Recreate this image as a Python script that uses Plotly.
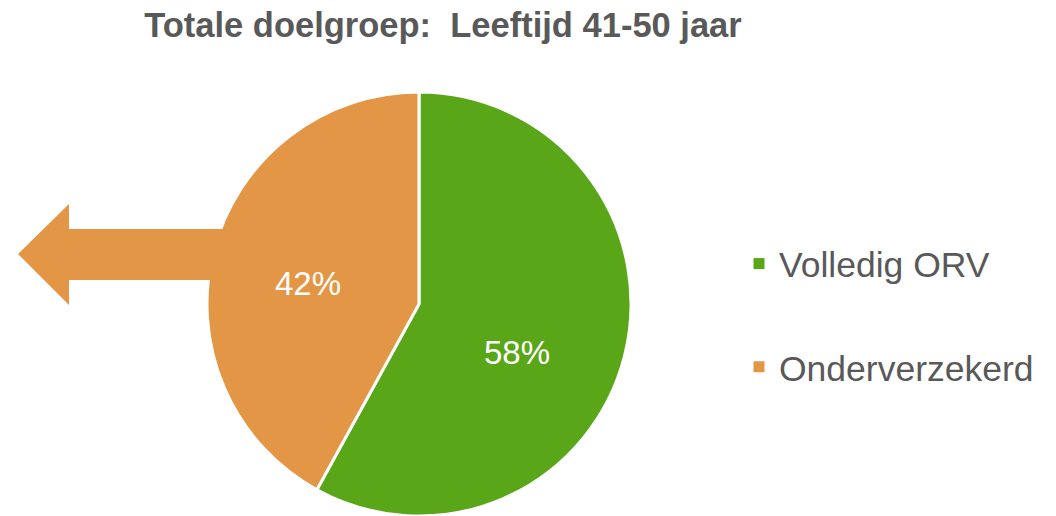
import plotly.graph_objects as go

categories = ["Volledig ORV", "Onderverzekerd"]
values = [58, 42]
colors = ["#59A618", "#E39646"]
title_text = "Totale doelgroep:  Leeftijd 41-50 jaar"

W, H = 1056, 516
FONT = "Liberation Sans, Arial, sans-serif"
GRAY = "#595959"

fig = go.Figure()

fig.add_trace(go.Pie(
    labels=categories, values=values, sort=False, direction="clockwise", rotation=0,
    marker=dict(colors=colors, line=dict(color="white", width=3)),
    textinfo="none",
    showlegend=False, hoverinfo="label+percent",
    domain=dict(x=[207 / W, 631 / W], y=[0, 1 - 92 / H]),
))

# slice percentage labels (text from the data, placed like the reference)
label_pos = [(517, 352), (308, 283)]
total = sum(values)
for v, (lx, ly) in zip(values, label_pos):
    fig.add_annotation(text=f"{v / total * 100:.0f}%", x=lx / W, y=1 - ly / H,
                       xref="paper", yref="paper", showarrow=False,
                       xanchor="center", yanchor="middle",
                       font=dict(color="white", size=33, family=FONT))

# legend entries (square swatches), separated into groups for spacing
for i, (name, col) in enumerate(zip(categories, colors)):
    fig.add_trace(go.Scatter(
        x=[None], y=[None], mode="markers", name=name,
        marker=dict(symbol="square", size=11, color=col),
        legendgroup=f"g{i}", showlegend=True,
    ))


def px(x, y):
    return x / W, 1 - y / H


pts = [(18, 254), (69, 204), (69, 229), (240, 229), (240, 280), (69, 280), (69, 305)]
path = "M " + " L ".join(f"{px(x, y)[0]:.5f},{px(x, y)[1]:.5f}" for x, y in pts) + " Z"
fig.add_shape(type="path", path=path, xref="paper", yref="paper",
              fillcolor=colors[1], line=dict(width=0), layer="above")

fig.update_layout(
    width=W, height=H,
    margin=dict(l=0, r=0, t=0, b=0),
    paper_bgcolor="white", plot_bgcolor="white",
    title=dict(text=f"<b>{title_text}</b>", x=443 / W, xanchor="center",
               y=1 - 25 / H, yanchor="middle",
               font=dict(size=34.5, color=GRAY, family=FONT)),
    xaxis=dict(visible=False, domain=[0.99, 1]), yaxis=dict(visible=False, domain=[0.99, 1]),
    legend=dict(x=739 / W, xanchor="left", y=1 - 234 / H, yanchor="top",
                font=dict(size=35.5, color=GRAY, family=FONT),
                tracegroupgap=54, itemsizing="trace", bgcolor="rgba(0,0,0,0)"),
    showlegend=True,
)

fig.write_html("out.html", config={"displayModeBar": False},
               post_script="document.body.style.margin='0';document.body.style.overflow='hidden';")
